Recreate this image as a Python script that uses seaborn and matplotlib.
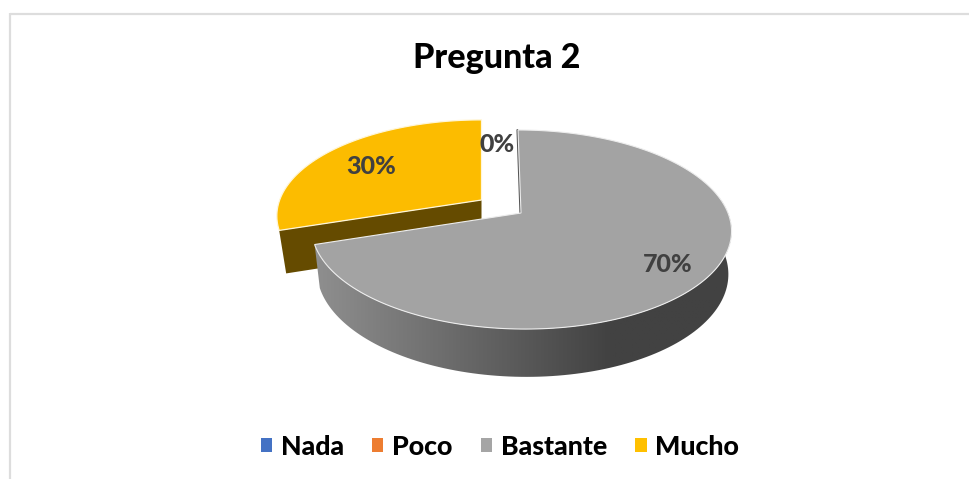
import numpy as np
import matplotlib
matplotlib.use("Agg")
import matplotlib.pyplot as plt
from matplotlib.colors import LinearSegmentedColormap
from matplotlib.patches import Patch, Polygon
import seaborn as sns

title = "Pregunta 2"
categories = ["Nada", "Poco", "Bastante", "Mucho"]
values = [0, 0, 70, 30]
colors = ["#4472C4", "#ED7D31", "#A5A5A5", "#FFC000"]

sns.set_theme(style="white")
plt.rcParams["font.family"] = ["Lato", "DejaVu Sans"]
palette = sns.color_palette(colors)

fig, ax = plt.subplots(figsize=(9.7, 4.79), dpi=100)
ax.set_position([0, 0, 1, 1])
ax.set_axis_off()


# tilted circle -> ellipse with the apex above the middle, like excel's 3d pie
def project(theta, cx, cy, sx=1.0, sy=1.0, skew=0.0):
    t = np.radians(theta)
    d = 1 + 0.166 * np.cos(t)
    up = sy * 96.8 * np.cos(t) / d
    x = cx + sx * 207 * np.sin(t) / d + skew * up
    return np.column_stack([x, cy - up])


share = np.array(values) / sum(values) * 360
ends = np.cumsum(share)
starts = ends - share

# Mucho, pulled out of the pie
t_a = np.linspace(starts[3], ends[3], 80)
yk = dict(sx=0.975, sy=0.965)
apex_y = project(0, 481.5, 200, sy=0)[0]
left_top = project(starts[3], 481.5, 200, **yk)[0]
face = [apex_y, left_top, left_top + [7, 43], apex_y + [0, 43]]
ax.add_patch(Polygon(face, fc="#654B00", ec="none", zorder=1))
ax.add_patch(Polygon(np.vstack([apex_y, project(t_a, 481.5, 200, **yk)]),
                     fc="#FCBC00", ec="#FFF6D8", lw=0.9, zorder=2))

# Bastante, side wall with gradient
gk = dict(skew=-0.036)
t_b = np.linspace(ends[2], 80, 120)
top_arc = project(t_b, 521, 213, **gk)
low_arc = project(t_b, 522, 255, sx=0.98, sy=1.05, **gk)
wall = Polygon(np.vstack([top_arc, low_arc[::-1]]), fc="none", ec="none", zorder=3)
ax.add_patch(wall)
cmap = LinearSegmentedColormap.from_list("side", ["#8E8E8E", "#424242"])
grad = np.interp(np.linspace(310, 735, 300), [318, 610], [0, 1])[None, :]
im = ax.imshow(grad, cmap=cmap, vmin=0, vmax=1, extent=[310, 735, 400, 200], aspect="auto", zorder=3)
im.set_clip_path(wall)

# thin dark sliver on the cut side facing the gap
t_c = np.linspace(starts[2], ends[2], 200)
apex_g = project(0, 521, 213, sy=0)[0]
start_pt = project(starts[2], 521, 213, **gk)[0]
ax.plot([start_pt[0] - 0.6, apex_g[0] - 0.6], [start_pt[1], apex_g[1]], color="#555555", lw=1.4, zorder=4)
ax.add_patch(Polygon(np.vstack([apex_g, project(t_c, 521, 213, **gk)]),
                     fc="#A3A3A3", ec="#EDEDED", lw=0.8, zorder=5))

# data labels
label_pos = {"Poco": (497, 144), "Bastante": (668, 264), "Mucho": (371, 166)}
for name, v in zip(categories, values):
    if name in label_pos:
        ax.text(*label_pos[name], f"{v}%", fontsize=18, fontweight=900, color="#404040",
                ha="center", va="center", zorder=6)

ax.text(497, 58, title, fontsize=24.5, fontweight=900, color="black", ha="center", va="center")

# chart frame, only top and left are visible in the crop
ax.plot([10, 970], [13.5, 13.5], color="#DDDDDD", lw=1.6, solid_capstyle="butt")
ax.plot([10, 10], [13, 479], color="#DDDDDD", lw=1.6, solid_capstyle="butt")

handles = [Patch(fc=c, ec="none") for c in palette]
ax.legend(handles, categories, loc="center", bbox_to_anchor=(500 / 970, 1 - 447 / 479), ncol=4,
          frameon=False, prop={"weight": 900, "size": 19.3}, handlelength=0.42, handleheight=0.42,
          handletextpad=0.33, columnspacing=1.05, labelcolor="black")

ax.set_xlim(0, 970)
ax.set_ylim(479, 0)
fig.savefig("out.png", dpi=100)
